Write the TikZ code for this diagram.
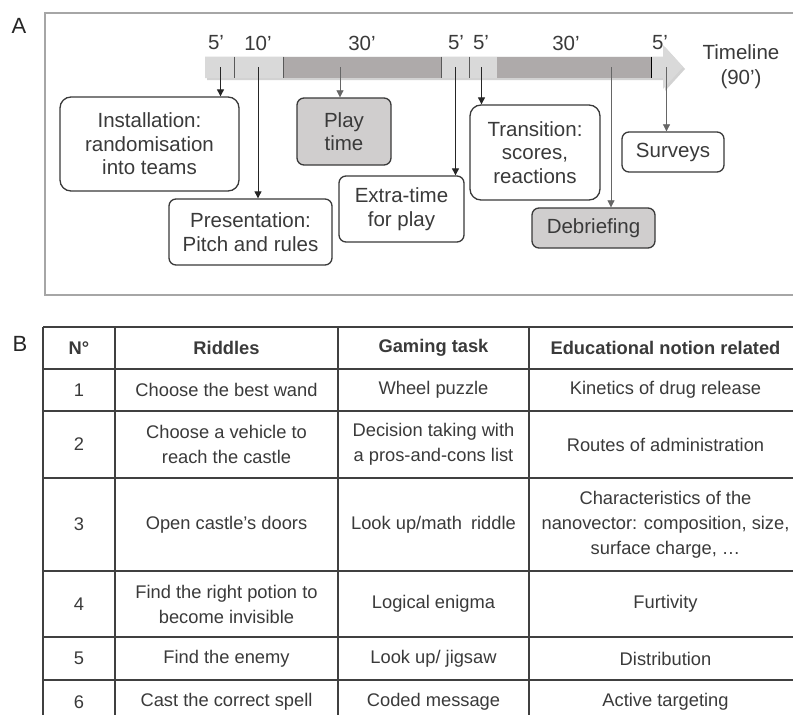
\documentclass[tikz,border=0pt]{standalone}
\usepackage{fontspec}
\setmainfont{Liberation Sans}
\usetikzlibrary{shadows,arrows.meta}
\definecolor{txt}{HTML}{3A3A3A}
\definecolor{lightseg}{HTML}{D9D9D9}
\definecolor{darkseg}{HTML}{AEAAAA}
\definecolor{boxg}{HTML}{D0CECE}
\definecolor{frameg}{HTML}{A6A6A6}
\begin{document}
\begin{tikzpicture}[x=1pt,y=-1pt,
 box/.style={draw=txt, line width=1.3pt, rounded corners=7pt, fill=white, text=txt, align=center, font=\fontsize{20.5}{23.5}\selectfont, inner sep=0pt},
 arr/.style={-{Triangle[length=7pt,width=7pt]}, line width=0.9pt, black!85},
 lab/.style={text=txt, font=\fontsize{20.5}{23}\selectfont, inner sep=0pt},
 cell/.style={text=txt, font=\fontsize{18.3}{25}\selectfont, align=center, inner sep=0pt},
 headcell/.style={text=txt, font=\fontsize{18.3}{25}\selectfont\bfseries, align=center, inner sep=0pt},
 tline/.style={draw=black!75, line width=1.4pt},
 seg/.style={draw=black!65, line width=0.8pt}
]
\useasboundingbox (0,0) rectangle (793,715);
\clip (0,0) rectangle (793,715);
\fill[white] (0,0) rectangle (793,715);

% panel labels
\node[lab, text=black!85, font=\fontsize{22}{24}\selectfont] (labA) at (19,26) {A};
\node[lab, text=black!85, font=\fontsize{22}{24}\selectfont] (labB) at (20,344) {B};

% panel A frame
\draw[frameg, line width=2pt] (45,13) rectangle (900,295);

% timeline arrow
\path[fill=lightseg, drop shadow={shadow xshift=2pt, shadow yshift=-2pt, opacity=0.35}]
  (205,56.7) -- (663,56.7) -- (663,45) -- (683,67) -- (663,89) -- (663,78) -- (205,78) -- cycle;
\fill[darkseg] (283,56.7) rectangle (441,78);
\fill[darkseg] (497,56.7) rectangle (651,78);
\draw[seg] (234,56.7) -- (234,78);
\draw[seg] (283,56.7) -- (283,78);
\draw[seg] (441,56.7) -- (441,78);
\draw[seg] (469,56.7) -- (469,78);
\draw[seg, black] (651,56.7) -- (651,78);

% durations
\node[lab] (d1) at (216,43) {5’};
\node[lab] (d2) at (258,43) {10’};
\node[lab] (d3) at (362,43) {30’};
\node[lab] (d4) at (456,43) {5’};
\node[lab] (d5) at (481,43) {5’};
\node[lab] (d6) at (566,43) {30’};
\node[lab] (d7) at (660,43) {5’};
\node[lab, align=center, font=\fontsize{20.5}{25}\selectfont] (tl) at (741,67) {Timeline\\(90’)};

% boxes
\node[box, rounded corners=11pt, minimum width=179pt, minimum height=94pt] (inst) at (149.5,144) {Installation:\\randomisation\\into teams};
\node[box, minimum width=163pt, minimum height=66pt] (pres) at (250.5,232) {Presentation:\\Pitch and rules};
\node[box, fill=boxg, minimum width=94pt, minimum height=67pt] (play) at (344,131.5) {Play\\time};
\node[box, minimum width=125pt, minimum height=66pt] (extra) at (401.5,209) {Extra-time\\for play};
\node[box, rounded corners=11pt, minimum width=130pt, minimum height=95pt] (trans) at (535,152.5) {Transition:\\scores,\\reactions};
\node[box, fill=boxg, minimum width=123pt, minimum height=40pt] (debr) at (593.5,228) {Debriefing};
\node[box, minimum width=102pt, minimum height=40pt] (surv) at (673,152) {Surveys};

% connectors
\coordinate (t1) at (220.5,67);
\coordinate (t2) at (258,67);
\coordinate (t3) at (340,67);
\coordinate (t4) at (455.5,67);
\coordinate (t5) at (481.5,67);
\coordinate (t6) at (611,67);
\coordinate (t7) at (666.5,67);
\draw[arr] (t1) -- (t1 |- inst.north);
\draw[arr] (t2) -- (t2 |- pres.north);
\draw[arr, black!60, line width=0.7pt] (t3) -- (t3 |- play.north);
\draw[arr] (t4) -- (t4 |- extra.north);
\draw[arr] (t5) -- (t5 |- trans.north);
\draw[arr, black!60, line width=0.7pt] (t6) -- (t6 |- debr.north);
\draw[arr, black!60, line width=0.7pt] (t7) -- (t7 |- surv.north);

% table B
\foreach \yy in {327,369,411,478,571,637,680}
  \draw[tline] (43,\yy) -- (900,\yy);
\foreach \xx in {43,115,338,529,802}
  \draw[tline] (\xx,327) -- (\xx,730);

\node[headcell] (h1) at (79,348) {N°};
\node[headcell] (h2) at (226.5,348) {Riddles};
\node[headcell] (h3) at (433.5,348) {Gaming task};
\node[headcell] (h4) at (665.5,348) {Educational notion related};

\node[cell] (r1a) at (79,390) {1};
\node[cell] (r1b) at (226.5,390) {Choose the best wand};
\node[cell] (r1c) at (433.5,390) {Wheel puzzle};
\node[cell] (r1d) at (665.5,390) {Kinetics of drug release};

\node[cell] (r2a) at (79,444.5) {2};
\node[cell] (r2b) at (226.5,444.5) {Choose a vehicle to\\reach the castle};
\node[cell] (r2c) at (433.5,444.5) {Decision taking with\\a pros-and-cons list};
\node[cell] (r2d) at (665.5,444.5) {Routes of administration};

\node[cell] (r3a) at (79,524.5) {3};
\node[cell] (r3b) at (226.5,524.5) {Open castle’s doors};
\node[cell] (r3c) at (433.5,524.5) {Look up/math\hspace{4pt} riddle};
\node[cell] (r3d) at (665.5,524.5) {Characteristics of the\\nanovector: composition, size,\\surface charge, …};

\node[cell] (r4a) at (79,604) {4};
\node[cell] (r4b) at (226.5,604) {Find the right potion to\\become invisible};
\node[cell] (r4c) at (433.5,604) {Logical enigma};
\node[cell] (r4d) at (665.5,604) {Furtivity};

\node[cell] (r5a) at (79,658.5) {5};
\node[cell] (r5b) at (226.5,658.5) {Find the enemy};
\node[cell] (r5c) at (433.5,658.5) {Look up/ jigsaw};
\node[cell] (r5d) at (665.5,658.5) {Distribution};

\node[cell] (r6a) at (79,702) {6};
\node[cell] (r6b) at (226.5,702) {Cast the correct spell};
\node[cell] (r6c) at (433.5,702) {Coded message};
\node[cell] (r6d) at (665.5,702) {Active targeting};
\end{tikzpicture}
\end{document}
